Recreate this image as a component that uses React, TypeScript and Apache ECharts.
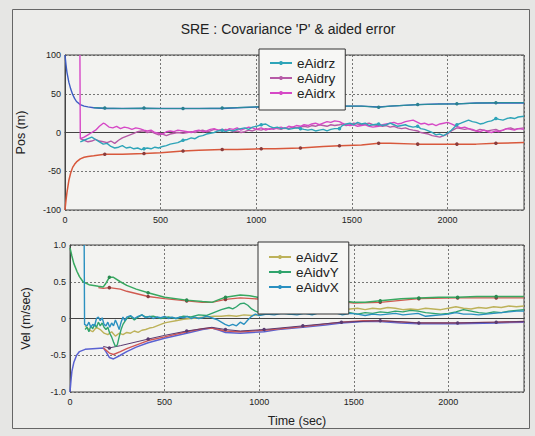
import React, { useEffect, useRef } from "react";
import * as echarts from "echarts";

const title = "SRE : Covariance 'P' & aided error";
const posTicks = [-100, -50, 0, 50, 100];
const velTicks = [-1.0, -0.5, 0, 0.5, 1.0];
const timeTicks = [0, 500, 1000, 1500, 2000];
const markT = [208, 413, 617, 822, 1026, 1231, 1435, 1640, 1844, 2049, 2253];

// ---- Position plot (m) ----
const posSigUpBlue: [number, number][] = [[0,100],[5,88],[10,78],[20,65],[30,56],[40,49],[50,44],[60,40],[80,36],[100,34],[120,33],[150,32],[208,31],[300,31],[413,31],[500,31],[617,31],[700,31],[822,31],[900,32],[1026,33],[1100,33],[1231,34],[1350,34],[1435,34],[1550,34],[1640,33],[1700,34],[1844,36],[1950,37],[2049,37],[2150,38],[2253,38],[2400,38]];
const posSigUpTeal: [number, number][] = [[150,32],[208,31.5],[300,31],[413,31.5],[500,31],[617,31],[700,31],[822,31.5],[900,32],[1026,33.5],[1100,33],[1231,34],[1350,34.5],[1435,34],[1550,34],[1640,32.5],[1700,34],[1844,36],[1950,36.5],[2049,37],[2150,38],[2253,38.5],[2400,38.5]];
const posSigLowRed: [number, number][] = [[0,-100],[5,-88],[10,-78],[20,-62],[30,-52],[40,-45],[50,-41],[60,-38],[80,-34],[100,-32],[120,-31],[150,-30],[208,-28],[300,-28],[413,-27],[500,-26],[617,-24],[700,-23],[822,-22],[900,-22],[1026,-21],[1100,-21],[1231,-20],[1350,-18],[1435,-17],[1550,-16],[1640,-14],[1700,-14],[1844,-15],[1950,-15],[2049,-15],[2150,-15],[2253,-14],[2400,-13]];
const eAidrz: [number, number][] = [[80,-12],[100,-10],[120,-8],[140,-6],[160,-9],[180,-12],[200,-15],[220,-14],[240,-18],[260,-20],[280,-19],[300,-17],[320,-20],[340,-19],[360,-21],[380,-20],[400,-22],[413,-21],[430,-20],[450,-21],[470,-19],[490,-20],[510,-18],[530,-17],[550,-15],[570,-14],[590,-13],[617,-10],[640,-9],[660,-7],[680,-8],[700,-5],[720,-4],[740,-2],[760,-1],[780,0],[800,2],[822,3],[840,1],[860,3],[880,2],[900,4],[920,5],[940,6],[960,4],[980,7],[1000,8],[1026,10],[1050,11],[1070,8],[1090,6],[1110,7],[1130,5],[1150,6],[1170,4],[1190,5],[1210,6],[1231,5],[1250,4],[1270,3],[1290,4],[1310,2],[1330,3],[1350,4],[1370,2],[1390,4],[1410,5],[1435,5],[1450,9],[1470,11],[1490,12],[1510,10],[1530,13],[1550,11],[1570,12],[1590,9],[1610,10],[1640,11],[1660,9],[1680,10],[1700,12],[1720,10],[1740,8],[1760,9],[1780,10],[1800,8],[1820,7],[1844,8],[1860,5],[1880,4],[1900,2],[1920,0],[1940,-3],[1960,-2],[1980,-4],[2000,-1],[2020,3],[2049,10],[2070,12],[2090,14],[2110,16],[2130,14],[2150,13],[2170,11],[2190,12],[2210,14],[2230,15],[2253,18],[2270,17],[2290,16],[2310,18],[2330,19],[2350,18],[2370,20],[2400,21]];
const eAidry: [number, number][] = [[80,-8],[100,-10],[120,-12],[140,-11],[160,-9],[180,-11],[200,-12],[220,-13],[240,-11],[260,-14],[280,-10],[300,-7],[320,-5],[340,-3],[360,-1],[380,1],[400,2],[413,2],[430,0],[450,1],[470,-1],[490,-3],[510,-2],[530,-4],[550,-2],[570,-1],[590,0],[617,-1],[640,0],[660,1],[680,0],[700,2],[720,3],[740,1],[760,2],[780,4],[800,3],[822,2],[840,4],[860,3],[880,1],[900,2],[920,0],[940,1],[960,3],[980,2],[1000,4],[1026,3],[1050,5],[1070,4],[1090,6],[1110,5],[1130,4],[1150,6],[1170,5],[1190,7],[1210,6],[1231,7],[1250,8],[1270,7],[1290,9],[1310,8],[1330,10],[1350,9],[1370,8],[1390,10],[1410,9],[1435,10],[1450,11],[1470,9],[1490,10],[1510,12],[1530,11],[1550,10],[1570,11],[1590,12],[1610,10],[1640,9],[1660,8],[1680,9],[1700,7],[1720,8],[1740,6],[1760,5],[1780,6],[1800,4],[1820,3],[1844,2],[1860,0],[1880,-1],[1900,-2],[1920,-4],[1940,-5],[1960,-6],[1980,-4],[2000,-2],[2020,2],[2049,6],[2070,5],[2090,4],[2110,5],[2130,3],[2150,2],[2170,4],[2190,3],[2210,2],[2230,3],[2253,4],[2270,2],[2290,3],[2310,5],[2330,6],[2350,4],[2370,5],[2400,6]];
const eAidrx: [number, number][] = [[78,100],[80,-8],[100,-6],[120,-3],[140,0],[160,3],[180,8],[200,12],[210,11],[230,7],[250,6],[270,8],[290,5],[310,7],[330,6],[350,4],[370,6],[390,5],[413,3],[430,2],[450,3],[470,0],[490,-1],[510,-2],[530,1],[550,2],[570,1],[590,3],[617,2],[640,1],[660,0],[680,2],[700,3],[720,1],[740,2],[760,4],[780,5],[800,3],[822,4],[840,2],[860,5],[880,4],[900,6],[920,3],[940,5],[960,7],[980,6],[1000,4],[1026,6],[1050,3],[1070,5],[1090,4],[1110,6],[1130,7],[1150,5],[1170,8],[1190,7],[1210,9],[1231,8],[1250,10],[1270,9],[1290,11],[1310,12],[1330,10],[1350,12],[1370,14],[1390,13],[1410,15],[1435,14],[1450,12],[1470,10],[1490,9],[1510,10],[1530,8],[1550,9],[1570,10],[1590,8],[1610,7],[1640,8],[1660,10],[1680,11],[1700,12],[1720,13],[1740,11],[1760,12],[1780,14],[1800,15],[1820,16],[1844,13],[1860,11],[1880,12],[1900,10],[1920,11],[1940,9],[1960,11],[1980,12],[2000,13],[2020,11],[2049,8],[2070,6],[2090,7],[2110,5],[2130,4],[2150,2],[2170,1],[2190,3],[2210,1],[2230,0],[2253,2],[2270,1],[2290,3],[2310,5],[2330,4],[2350,3],[2370,5],[2400,4]];

// ---- Velocity plot (m/sec) ----
const velSigUpGreen: [number, number][] = [[0,0.96],[10,0.85],[20,0.75],[37,0.64],[50,0.57],[69,0.5],[100,0.46],[150,0.44],[176,0.43],[190,0.48],[208,0.56],[230,0.56],[266,0.5],[300,0.45],[350,0.4],[413,0.35],[500,0.29],[617,0.25],[700,0.23],[750,0.22],[790,0.26],[822,0.29],[900,0.32],[950,0.31],[1026,0.27],[1100,0.27],[1231,0.26],[1350,0.25],[1435,0.24],[1500,0.22],[1560,0.22],[1640,0.24],[1750,0.27],[1844,0.28],[1950,0.29],[2049,0.29],[2150,0.3],[2253,0.3],[2400,0.3]];
const velSigUpRed: [number, number][] = [[150,0.42],[176,0.41],[208,0.42],[266,0.4],[300,0.37],[413,0.3],[500,0.27],[617,0.24],[700,0.22],[750,0.22],[822,0.26],[900,0.28],[1026,0.26],[1231,0.25],[1435,0.23],[1500,0.21],[1640,0.22],[1844,0.27],[2049,0.28],[2253,0.28],[2400,0.28]];
const velSigLowBlue: [number, number][] = [[0,-1.0],[5,-0.85],[10,-0.72],[20,-0.6],[35,-0.5],[50,-0.45],[80,-0.42],[120,-0.41],[176,-0.4],[190,-0.45],[208,-0.53],[230,-0.55],[266,-0.5],[300,-0.45],[350,-0.39],[413,-0.33],[500,-0.27],[617,-0.2],[700,-0.15],[750,-0.13],[790,-0.16],[822,-0.19],[900,-0.2],[1026,-0.18],[1100,-0.15],[1231,-0.12],[1350,-0.09],[1435,-0.06],[1550,-0.04],[1640,-0.04],[1750,-0.06],[1844,-0.07],[2049,-0.07],[2253,-0.06],[2400,-0.05]];
const velSigLowRed: [number, number][] = [[176,-0.4],[208,-0.47],[230,-0.49],[266,-0.45],[300,-0.41],[413,-0.3],[500,-0.25],[617,-0.18],[700,-0.14],[750,-0.13],[822,-0.17],[900,-0.18],[1026,-0.16],[1231,-0.11],[1435,-0.05],[1550,-0.03],[1640,-0.03],[1844,-0.06],[2049,-0.06],[2253,-0.05],[2400,-0.04]];
const velSigLowDark: [number, number][] = [[176,-0.38],[208,-0.4],[266,-0.37],[413,-0.28],[500,-0.23],[617,-0.17],[750,-0.12],[822,-0.15],[900,-0.17],[1026,-0.15],[1231,-0.1],[1435,-0.05],[1640,-0.03],[1844,-0.06],[2049,-0.06],[2253,-0.05],[2400,-0.04]];
const eAidvZ: [number, number][] = [[80,-0.1],[100,-0.15],[120,-0.18],[140,-0.12],[160,-0.15],[180,-0.2],[200,-0.22],[220,-0.18],[240,-0.24],[260,-0.2],[280,-0.22],[300,-0.19],[320,-0.2],[340,-0.17],[360,-0.19],[380,-0.16],[400,-0.15],[420,-0.13],[440,-0.12],[460,-0.1],[480,-0.08],[500,-0.06],[520,-0.05],[560,-0.03],[600,-0.01],[640,0.0],[680,0.01],[720,0.02],[760,0.03],[800,0.03],[840,0.04],[880,0.03],[920,0.05],[960,0.04],[1000,0.05],[1040,0.06],[1080,0.07],[1120,0.09],[1160,0.1],[1200,0.11],[1240,0.1],[1280,0.12],[1320,0.1],[1360,0.12],[1400,0.13],[1440,0.11],[1480,0.13],[1520,0.14],[1560,0.12],[1600,0.14],[1640,0.13],[1680,0.15],[1720,0.14],[1760,0.12],[1800,0.13],[1840,0.12],[1880,0.14],[1920,0.13],[1960,0.12],[2000,0.14],[2040,0.16],[2080,0.14],[2120,0.13],[2160,0.15],[2200,0.14],[2240,0.16],[2280,0.15],[2320,0.17],[2360,0.16],[2400,0.17]];
const eAidvY: [number, number][] = [[80,-0.15],[90,-0.12],[100,-0.18],[110,-0.1],[120,-0.14],[130,-0.08],[140,-0.12],[150,-0.05],[160,-0.1],[170,-0.06],[180,-0.12],[190,-0.15],[200,-0.12],[210,-0.2],[220,-0.25],[230,-0.32],[240,-0.38],[250,-0.36],[260,-0.25],[270,-0.15],[280,-0.08],[290,-0.04],[300,0.0],[320,0.03],[340,-0.02],[360,0.02],[380,0.05],[400,0.02],[440,0.03],[480,0.0],[520,0.02],[560,0.0],[600,0.03],[640,0.02],[680,0.05],[720,0.04],[760,0.08],[800,0.12],[840,0.15],[860,0.13],[880,0.16],[900,0.2],[920,0.21],[940,0.18],[960,0.13],[980,0.1],[1000,0.08],[1040,0.1],[1080,0.07],[1120,0.09],[1160,0.06],[1200,0.07],[1240,0.09],[1280,0.06],[1320,0.08],[1360,0.07],[1400,0.09],[1440,0.07],[1480,0.08],[1520,0.06],[1560,0.08],[1600,0.07],[1640,0.09],[1680,0.08],[1720,0.1],[1760,0.09],[1800,0.11],[1840,0.1],[1880,0.08],[1920,0.07],[1960,0.06],[2000,0.07],[2040,0.09],[2080,0.12],[2120,0.1],[2160,0.08],[2200,0.07],[2240,0.09],[2280,0.08],[2320,0.1],[2360,0.11],[2400,0.12]];
const eAidvX: [number, number][] = [[75,1.0],[77,-0.08],[90,-0.1],[100,-0.05],[110,-0.12],[120,-0.08],[130,-0.1],[140,0.0],[150,0.02],[160,-0.03],[170,0.01],[180,-0.08],[190,-0.1],[200,-0.05],[210,-0.12],[220,-0.06],[230,-0.1],[240,-0.02],[250,-0.08],[260,-0.15],[270,-0.05],[280,0.02],[290,-0.03],[300,0.02],[320,0.04],[340,0.0],[360,0.03],[380,0.05],[400,0.01],[420,0.03],[440,0.0],[460,0.02],[480,0.01],[500,0.03],[520,0.0],[540,0.02],[560,0.0],[580,0.02],[600,0.01],[620,0.03],[640,0.0],[660,0.02],[680,0.0],[700,0.01],[720,0.03],[740,0.02],[760,0.0],[780,-0.02],[800,-0.05],[820,-0.08],[840,-0.1],[860,-0.08],[880,-0.1],[900,-0.05],[920,-0.08],[940,-0.02],[960,0.03],[980,0.06],[1000,0.04],[1040,0.06],[1080,0.05],[1120,0.07],[1160,0.06],[1200,0.05],[1240,0.07],[1280,0.05],[1320,0.08],[1360,0.07],[1400,0.08],[1440,0.05],[1480,0.07],[1520,0.06],[1560,0.04],[1600,0.06],[1640,0.05],[1680,0.06],[1720,0.07],[1760,0.05],[1800,0.06],[1840,0.07],[1880,0.03],[1920,0.04],[1960,0.05],[2000,0.06],[2040,0.08],[2080,0.06],[2120,0.06],[2160,0.05],[2200,0.06],[2240,0.07],[2280,0.08],[2320,0.09],[2360,0.1],[2400,0.1]];

const FONT = "Liberation Sans, Arial, sans-serif";

function items(arr: [number, number][], marks: boolean) {
  return arr.map(([t, v]) => ({
    value: [t, v],
    symbol: marks && markT.includes(t) ? "circle" : "none",
  }));
}

function line(name: string, arr: [number, number][], color: string, idx: number, marks: boolean, width = 1.4, markColor?: string) {
  return {
    type: "line",
    name,
    xAxisIndex: idx,
    yAxisIndex: idx,
    data: items(arr, marks),
    symbol: "circle",
    symbolSize: 3.5,
    showSymbol: true,
    showAllSymbol: true,
    clip: true,
    lineStyle: { color, width },
    itemStyle: { color: markColor || color },
    z: 3,
  };
}

function xAxis(idx: number, name: string) {
  return {
    type: "value",
    gridIndex: idx,
    min: 0,
    max: 2400,
    interval: 500,
    name,
    nameLocation: "middle",
    nameGap: 22,
    nameTextStyle: { fontFamily: FONT, fontSize: 12.5, color: "#222" },
    axisLine: { show: true, lineStyle: { color: "#444", width: 1 } },
    axisTick: { show: false },
    axisLabel: {
      fontFamily: FONT,
      fontSize: 9,
      color: "#222",
      margin: 5,
      formatter: (v: number) => (timeTicks.includes(v) ? String(v) : ""),
    },
    splitLine: { show: true, lineStyle: { color: "#555", width: 0.8, type: [2, 2] } },
  };
}

function yAxis(idx: number, name: string, min: number, max: number, interval: number, ticks: number[], fmt: (v: number) => string, nameGap: number) {
  return {
    type: "value",
    gridIndex: idx,
    min,
    max,
    interval,
    name,
    nameLocation: "middle",
    nameGap,
    nameTextStyle: { fontFamily: FONT, fontSize: 12.5, color: "#222" },
    axisLine: { show: true, lineStyle: { color: "#444", width: 1 } },
    axisTick: { show: false },
    axisLabel: {
      fontFamily: FONT,
      fontSize: 9,
      color: "#222",
      margin: 4,
      formatter: (v: number) => (ticks.some((t) => Math.abs(t - v) < 1e-9) ? fmt(v) : ""),
    },
    splitLine: { show: true, lineStyle: { color: "#555", width: 0.8, type: [2, 2] } },
  };
}

function legend(names: string[], left: number, top: number, padding: number[]) {
  return {
    data: names,
    orient: "vertical",
    left,
    top,
    padding,
    itemGap: 1,
    itemWidth: 22,
    itemHeight: 5,
    backgroundColor: "#f7f7f5",
    borderColor: "#333",
    borderWidth: 1,
    borderRadius: 0,
    textStyle: { fontFamily: FONT, fontSize: 13.5, color: "#222", lineHeight: 14 },
  };
}

export default function App() {
  const ref = useRef<HTMLDivElement>(null);
  useEffect(() => {
    if (!ref.current) return;
    const chart = echarts.init(ref.current, undefined, { renderer: "svg" });
    const velFmt = (v: number) => (Math.abs(v) < 1e-9 ? "0" : v.toFixed(1));
    chart.setOption({
      animation: false,
      backgroundColor: "#e6e6e4",
      title: {
        text: title,
        left: 283,
        top: 17,
        textAlign: "center",
        textStyle: { fontFamily: FONT, fontSize: 14, fontWeight: "normal", color: "#222" },
      },
      graphic: [
        {
          type: "rect",
          shape: { x: 12.5, y: 9.5, width: 517, height: 419 },
          style: { fill: "#ececea", stroke: "#666", lineWidth: 1 },
          z: -10,
          silent: true,
        },
      ],
      grid: [
        { left: 65, top: 55, width: 459, height: 155, show: true, backgroundColor: "#f3f3f1", borderColor: "#444", borderWidth: 1 },
        { left: 70, top: 245, width: 454, height: 147, show: true, backgroundColor: "#f3f3f1", borderColor: "#444", borderWidth: 1 },
      ],
      xAxis: [xAxis(0, ""), xAxis(1, "Time (sec)")],
      yAxis: [
        yAxis(0, "Pos (m)", -100, 100, 50, posTicks, (v) => String(v), 38),
        yAxis(1, "Vel (m/sec)", -1, 1, 0.5, velTicks, velFmt, 38),
      ],
      legend: [
        legend(["eAidrz", "eAidry", "eAidrx"], 259, 49, [7, 10, 10, 10]),
        legend(["eAidvZ", "eAidvY", "eAidvX"], 258, 242, [8, 10, 20, 10]),
      ],
      series: [
        line("", posSigUpBlue, "#3d5cc4", 0, false, 1.4),
        line("", posSigUpTeal, "#2a8c9c", 0, true, 1.2, "#2a7f90"),
        line("", posSigLowRed, "#d8583c", 0, true, 1.5, "#8a3c3c"),
        line("eAidry", eAidry, "#b65aa6", 0, false),
        line("eAidrx", eAidrx, "#d648c6", 0, false),
        line("eAidrz", eAidrz, "#2ea4b8", 0, true),
        line("", velSigLowBlue, "#5a62d2", 1, false, 1.5),
        line("", velSigLowRed, "#d05656", 1, false, 1.4),
        line("", velSigLowDark, "#5a3a70", 1, true, 1),
        line("", velSigUpRed, "#d05a50", 1, true, 1.4, "#8a3c3c"),
        line("", velSigUpGreen, "#38a860", 1, true, 1.5, "#2a8a50"),
        line("eAidvZ", eAidvZ, "#bdb25a", 1, false),
        line("eAidvY", eAidvY, "#30a46c", 1, false),
        line("eAidvX", eAidvX, "#2a90c0", 1, false),
      ],
    });
    return () => chart.dispose();
  }, []);
  return <div ref={ref} style={{ position: "fixed", left: 0, top: 0, width: 535, height: 436 }} />;
}
